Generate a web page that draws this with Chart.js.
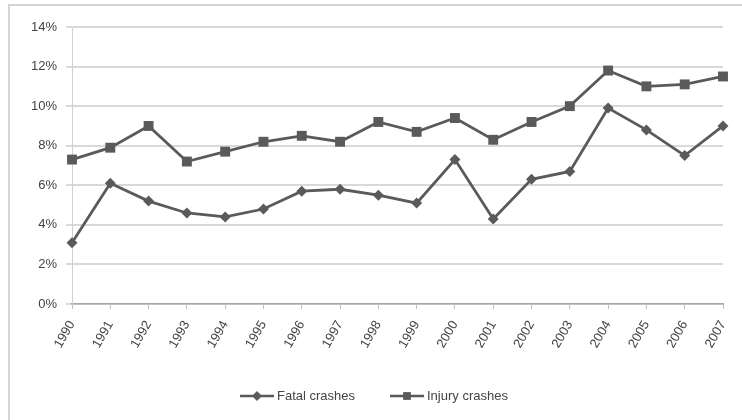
<!DOCTYPE html>
<html>
<head>
<meta charset="utf-8">
<script src="https://cdn.jsdelivr.net/npm/chart.js@4"></script>
<style>
  html, body { margin: 0; padding: 0; background: #fff; }
  #wrap { position: relative; width: 742px; height: 420px; }
</style>
</head>
<body>
<div id="wrap"><canvas id="chart" width="742" height="420"></canvas></div>
<script>
let years = ["1990","1991","1992","1993","1994","1995","1996","1997","1998",
             "1999","2000","2001","2002","2003","2004","2005","2006","2007"];
let fatalCrashes  = [3.1, 6.1, 5.2, 4.6, 4.4, 4.8, 5.7, 5.8, 5.5, 5.1, 7.3, 4.3, 6.3, 6.7, 9.9, 8.8, 7.5, 9.0];
let injuryCrashes = [7.3, 7.9, 9.0, 7.2, 7.7, 8.2, 8.5, 8.2, 9.2, 8.7, 9.4, 8.3, 9.2, 10.0, 11.8, 11.0, 11.1, 11.5];
let seriesNames = ["Fatal crashes", "Injury crashes"];

const lineColor = "#5a5a5a";
const font = "Liberation Sans";

// frame + legend drawn by hand (line with marker in the middle, like Excel)
const extras = {
    id: "extras",
    beforeDraw(chart) {
        const c = chart.ctx;
        c.save();
        c.strokeStyle = "#d4d4d4";
        c.lineWidth = 2;
        c.beginPath();
        c.moveTo(9, 420);
        c.lineTo(9, 5);
        c.lineTo(742, 5);
        c.stroke();
        c.restore();
    },
    afterDraw(chart) {
        const c = chart.ctx;
        const y = 396;
        const items = [
            { x: 240, style: "rectRot", r: 5 },
            { x: 390, style: "rect", r: 5.5 }
        ];
        c.save();
        c.font = "13px '" + font + "'";
        c.textBaseline = "middle";
        items.forEach((it, i) => {
            c.strokeStyle = lineColor;
            c.lineWidth = 2.5;
            c.beginPath();
            c.moveTo(it.x, y);
            c.lineTo(it.x + 34, y);
            c.stroke();
            c.fillStyle = lineColor;
            Chart.helpers.drawPoint(c, { pointStyle: it.style, radius: it.r, borderWidth: 0 }, it.x + 17, y);
            c.fillStyle = "#444";
            c.fillText(seriesNames[i], it.x + 37, y);
        });
        c.restore();
    }
};

new Chart(document.getElementById("chart").getContext("2d"), {
    type: "line",
    data: {
        labels: years,
        datasets: [{
            label: seriesNames[0],
            data: fatalCrashes,
            borderColor: lineColor,
            backgroundColor: lineColor,
            borderWidth: 2.8,
            pointStyle: "rectRot",
            pointRadius: 5.5,
            pointBorderWidth: 0,
            tension: 0,
            clip: false
        }, {
            label: seriesNames[1],
            data: injuryCrashes,
            borderColor: lineColor,
            backgroundColor: lineColor,
            borderWidth: 2.8,
            pointStyle: "rect",
            pointRadius: 7,
            pointBorderWidth: 0,
            tension: 0,
            clip: false
        }]
    },
    options: {
        responsive: false,
        animation: false,
        layout: { padding: { left: 0, top: 27, right: 19, bottom: 0 } },
        plugins: { legend: { display: false }, tooltip: { enabled: false } },
        scales: {
            x: {
                offset: false,
                grid: { drawOnChartArea: false, tickLength: 5, color: "#bfbfbf" },
                border: { color: "#a6a6a6", width: 1.5 },
                ticks: {
                    minRotation: 60, maxRotation: 60, autoSkip: false,
                    color: "#444", padding: 9,
                    font: { family: font, size: 13 }
                },
                afterFit(s) {
                    s.height = 116;
                    s.paddingRight = 0;
                    s.paddingLeft = 0;
                }
            },
            y: {
                min: 0, max: 14,
                grid: { color: "#d9d9d9", lineWidth: 2, tickLength: 6 },
                border: { color: "#d0d0d0" },
                ticks: {
                    stepSize: 2, color: "#444", padding: 9,
                    font: { family: font, size: 13 },
                    callback: v => v + "%"
                },
                afterFit(s) { s.width = 72; }
            }
        }
    },
    plugins: [extras]
});
</script>
</body>
</html>
